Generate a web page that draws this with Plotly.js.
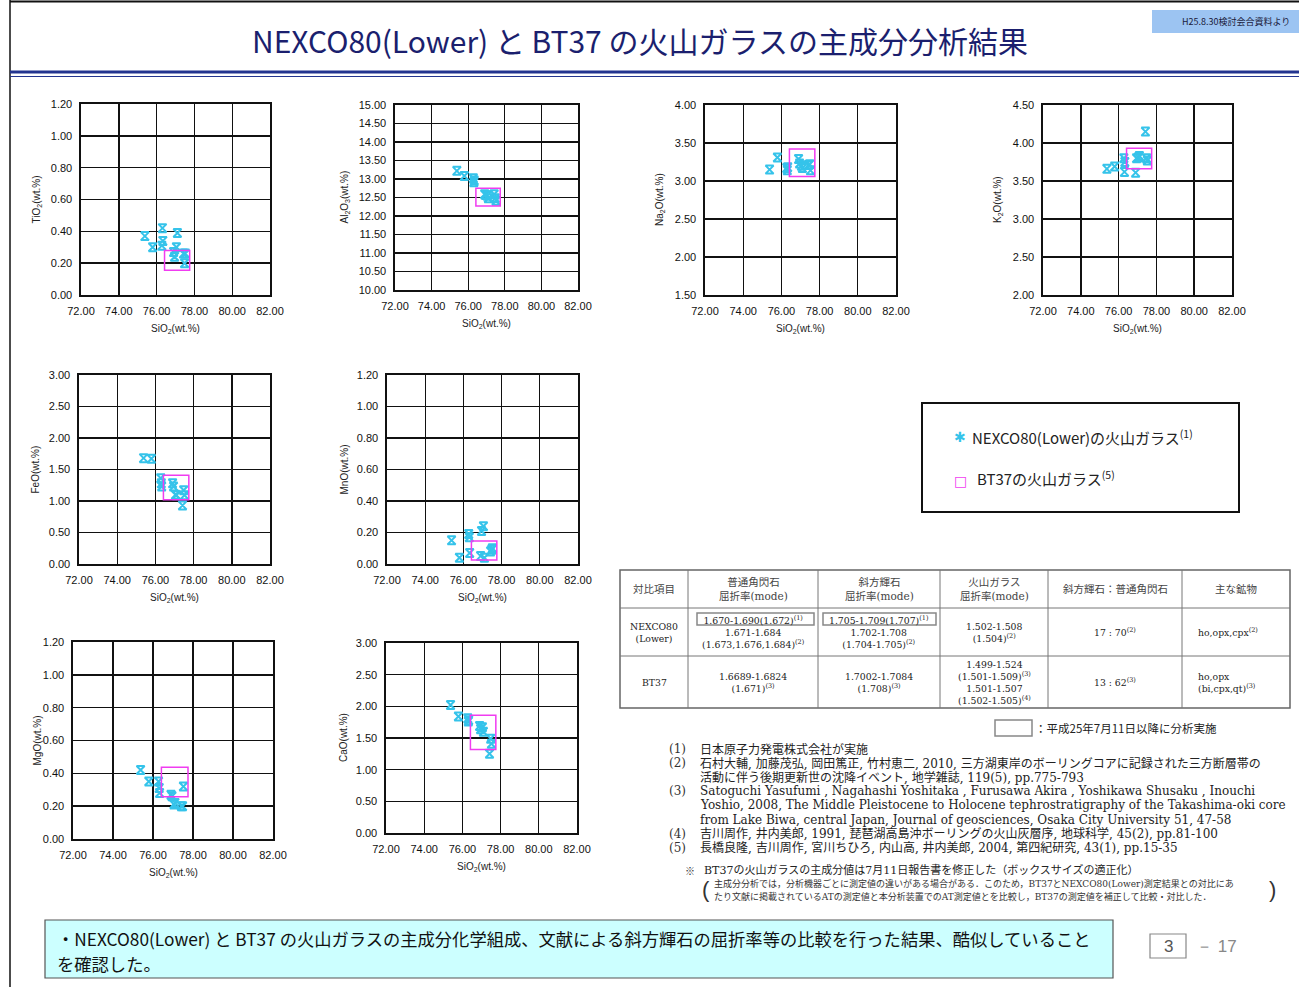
<!DOCTYPE html>
<html><head><meta charset="utf-8">
<script src="https://cdn.plot.ly/plotly-3.0.1.min.js"></script>
<style>html,body{margin:0;padding:0;background:#fff;}#chart{width:1299px;height:987px;}</style>
</head><body><div id="chart"></div>
<script>
const W = 1299, H = 987;

// ---------- data: NEXCO80(Lower) volcanic glass (wt.%) ----------
const sio2 = [75.38, 75.79, 76.28, 76.31, 76.33, 76.90, 76.95, 77.05, 77.10, 77.42, 77.48, 77.52];
const tio2 = [0.37, 0.30, 0.31, 0.42, 0.34, 0.27, 0.24, 0.30, 0.39, 0.26, 0.20, 0.26];
const al2o3 = [13.22, 13.08, 13.02, 12.91, 12.96, 12.59, 12.57, 12.55, 12.48, 12.59, 12.48, 12.41];
const na2o = [3.15, 3.31, 3.17, 3.14, 3.18, 3.29, 3.23, 3.20, 3.17, 3.21, 3.22, 3.14];
const k2o = [3.66, 3.69, 3.80, 3.62, 3.75, 3.61, 3.80, 3.81, 3.83, 4.15, 3.80, 3.77];
const feo = [1.68, 1.67, 1.36, 1.28, 1.23, 1.28, 1.23, 1.10, 1.09, 0.93, 1.17, 1.09];
const mno = [0.15, 0.04, 0.19, 0.17, 0.07, 0.05, 0.21, 0.24, 0.04, 0.08, 0.09, 0.10];
const mgo = [0.42, 0.35, 0.35, 0.31, 0.28, 0.27, 0.26, 0.21, 0.22, 0.20, 0.20, 0.32];
const cao = [2.02, 1.84, 1.81, 1.76, 1.78, 1.69, 1.64, 1.67, 1.60, 1.25, 1.49, 1.41];

// ---------- data: BT37 volcanic glass ranges (box) ----------
const bt37SiO2 = [76.42, 77.75];
const bt37TiO2 = [0.155, 0.28];
const bt37Al2O3 = [12.27, 12.75];
const bt37Na2O = [3.06, 3.42];
const bt37K2O = [3.66, 3.93];
const bt37FeO = [1.02, 1.41];
const bt37MnO = [0.025, 0.146];
const bt37MgO = [0.258, 0.437];
const bt37CaO = [1.32, 1.86];

// ---------- axis labels / ranges ----------
const xTitle = 'SiO<sub>2</sub>(wt.%)';
const xRange = [72, 82];
const xTickStep = 2;

// ---------- table text ----------
const tableHeader = ['対比項目', '普通角閃石<br>屈折率(mode)', '斜方輝石<br>屈折率(mode)', '火山ガラス<br>屈折率(mode)', '斜方輝石：普通角閃石', '主な鉱物'];
const tableRowNexco = ['NEXCO80<br>(Lower)',
  '1.670-1.690(1.672)<sup>(1)</sup><br>1.671-1.684<br>(1.673,1.676,1.684)<sup>(2)</sup>',
  '1.705-1.709(1.707)<sup>(1)</sup><br>1.702-1.708<br>(1.704-1.705)<sup>(2)</sup>',
  '1.502-1.508<br>(1.504)<sup>(2)</sup>',
  '17 : 70<sup>(2)</sup>',
  'ho,opx,cpx<sup>(2)</sup>'];
const tableRowBt37 = ['BT37',
  '1.6689-1.6824<br>(1.671)<sup>(3)</sup>',
  '1.7002-1.7084<br>(1.708)<sup>(3)</sup>',
  '1.499-1.524<br>(1.501-1.509)<sup>(3)</sup><br>1.501-1.507<br>(1.502-1.505)<sup>(4)</sup>',
  '13 : 62<sup>(3)</sup>',
  'ho,opx<br>(bi,cpx,qt)<sup>(3)</sup>'];

const refNums = ['(1)', '(2)', '', '(3)', '', '', '(4)', '(5)'];
const refLines = [
  '日本原子力発電株式会社が実施',
  '石村大輔, 加藤茂弘, 岡田篤正, 竹村恵二, 2010, 三方湖東岸のボーリングコアに記録された三方断層帯の',
  '活動に伴う後期更新世の沈降イベント, 地学雑誌, 119(5), pp.775-793',
  'Satoguchi Yasufumi , Nagahashi Yoshitaka , Furusawa Akira , Yoshikawa Shusaku , Inouchi',
  'Yoshio, 2008, The Middle Pleistocene to Holocene tephrostratigraphy of the Takashima-oki core',
  'from Lake Biwa, central Japan, Journal of geosciences, Osaka City University 51, 47-58',
  '吉川周作, 井内美郎, 1991, 琵琶湖高島沖ボーリングの火山灰層序, 地球科学, 45(2), pp.81-100',
  '長橋良隆, 吉川周作, 宮川ちひろ, 内山高, 井内美郎, 2004, 第四紀研究, 43(1), pp.15-35'
];

// ---------- layout helpers ----------
const px = x => x / W;
const py = y => 1 - y / H;
const JP = "'Noto Sans CJK JP', 'Liberation Sans', sans-serif";
const SERIF = "'DejaVu Serif', 'Noto Sans CJK JP', serif";
const SANS = "'Liberation Sans', Arial, sans-serif";

const panels = [
  {y: tio2, box: bt37TiO2, title: 'TiO<sub>2</sub>(wt.%)', range: [0, 1.2], dtick: 0.2, pos: [81, 270, 104, 295], tx: 36},
  {y: al2o3, box: bt37Al2O3, title: 'Al<sub>2</sub>O<sub>3</sub>(wt.%)', range: [10, 15], dtick: 0.5, pos: [395, 578, 105, 290], tx: 344},
  {y: na2o, box: bt37Na2O, title: 'Na<sub>2</sub>O(wt.%)', range: [1.5, 4], dtick: 0.5, pos: [705, 896, 105, 295], tx: 660},
  {y: k2o, box: bt37K2O, title: 'K<sub>2</sub>O(wt.%)', range: [2, 4.5], dtick: 0.5, pos: [1043, 1232, 105, 295], tx: 998},
  {y: feo, box: bt37FeO, title: 'FeO(wt.%)', range: [0, 3], dtick: 0.5, pos: [79, 270, 375, 564], tx: 35},
  {y: mno, box: bt37MnO, title: 'MnO(wt.%)', range: [0, 1.2], dtick: 0.2, pos: [387, 578, 375, 564], tx: 344},
  {y: mgo, box: bt37MgO, title: 'MgO(wt.%)', range: [0, 1.2], dtick: 0.2, pos: [73, 273, 642, 839], tx: 37},
  {y: cao, box: bt37CaO, title: 'CaO(wt.%)', range: [0, 3], dtick: 0.5, pos: [386, 577, 643, 833], tx: 343}
];

const data = [];
const shapes = [];
const annotations = [];
const layout = {
  width: W, height: H, margin: {l: 0, r: 0, t: 0, b: 0},
  paper_bgcolor: '#fff', plot_bgcolor: '#fff', showlegend: false,
  font: {family: SANS, color: '#222'}
};

const glassColor = '#35c3ea';
const boxColor = '#f03cf0';

panels.forEach((p, i) => {
  const sx = i ? String(i + 1) : '';
  const [l, r, t, b] = p.pos;
  data.push({
    type: 'scatter', mode: 'markers', x: sio2, y: p.y,
    xaxis: 'x' + sx, yaxis: 'y' + sx,
    marker: {symbol: 'hourglass-open', size: 8, color: glassColor, line: {color: glassColor, width: 2}},
    hoverinfo: 'x+y'
  });
  const axCommon = {
    showgrid: true, gridcolor: '#111', gridwidth: 1.4,
    showline: true, linecolor: '#111', linewidth: 1.6, mirror: true,
    zeroline: false, ticks: 'outside', ticklen: 5, tickcolor: 'rgba(0,0,0,0)',
    tickformat: '.2f', tickfont: {family: SANS, size: 11, color: '#111'},
    fixedrange: true
  };
  layout['xaxis' + sx] = Object.assign({}, axCommon, {
    domain: [px(l), px(r)], range: xRange, dtick: xTickStep, tick0: 72,
    anchor: 'y' + sx
  });
  layout['yaxis' + sx] = Object.assign({}, axCommon, {
    domain: [py(b), py(t)], range: p.range, dtick: p.dtick, tick0: p.range[0],
    anchor: 'x' + sx
  });
  shapes.push({
    type: 'rect', xref: 'x' + sx, yref: 'y' + sx,
    x0: bt37SiO2[0], x1: bt37SiO2[1], y0: p.box[0], y1: p.box[1],
    line: {color: boxColor, width: 1.5}, fillcolor: 'rgba(0,0,0,0)', layer: 'above'
  });
  annotations.push({
    xref: 'paper', yref: 'paper', x: px((l + r) / 2), y: py(b + 34),
    text: xTitle, showarrow: false, xanchor: 'center', yanchor: 'middle',
    font: {family: SANS, size: 10, color: '#222'}
  });
  annotations.push({
    xref: 'paper', yref: 'paper', x: px(p.tx), y: py((t + b) / 2),
    text: p.title, showarrow: false, textangle: -90, xanchor: 'center', yanchor: 'middle',
    font: {family: SANS, size: 10, color: '#222'}
  });
});

function pline(x0, y0, x1, y1, color, width) {
  shapes.push({type: 'line', xref: 'paper', yref: 'paper', x0: px(x0), y0: py(y0), x1: px(x1), y1: py(y1), line: {color, width}});
}
function prect(x0, y0, x1, y1, color, width, fill) {
  shapes.push({type: 'rect', xref: 'paper', yref: 'paper', x0: px(x0), y0: py(y0), x1: px(x1), y1: py(y1),
    line: {color, width}, fillcolor: fill || 'rgba(0,0,0,0)'});
}
function ptext(text, x, y, size, opts) {
  annotations.push(Object.assign({
    xref: 'paper', yref: 'paper', x: px(x), y: py(y), text, showarrow: false,
    xanchor: 'left', yanchor: 'middle', font: {family: JP, size, color: '#222'}
  }, opts || {}));
}

// frame & title
pline(10, 0, 10, 987, '#111', 1.5);
pline(10, 1.5, 1299, 1.5, '#111', 2);
prect(1152, 10, 1300, 33, '#9cc4f2', 0, '#9cc4f2');
ptext('H25.8.30検討会合資料より', 1236, 22, 9, {xanchor: 'center', font: {family: JP, size: 9, color: '#1a1a3a'}});
ptext('NEXCO80(Lower) と BT37 の火山ガラスの主成分分析結果', 640, 40, 30,
  {xanchor: 'center', font: {family: JP, size: 30, color: '#1b1f6e'}});
pline(10, 72, 1299, 72, '#22348f', 3);
pline(10, 76.5, 1299, 76.5, '#22348f', 1.2);

// legend box
prect(922, 403, 1239, 512, '#111', 2, '#fff');
ptext('✱', 960, 437, 14, {xanchor: 'center', font: {family: "'DejaVu Sans', sans-serif", size: 14, color: glassColor}});
ptext('NEXCO80(Lower)の火山ガラス<sup>(1)</sup>', 970, 437, 15);
ptext('□', 960, 481, 14, {xanchor: 'center', font: {family: "'DejaVu Sans', sans-serif", size: 14, color: boxColor}});
ptext('BT37の火山ガラス<sup>(5)</sup>', 975, 478, 15);

// table
const colEdges = [620, 688, 818, 940, 1048, 1182, 1290];
const rowEdges = [570, 608, 656, 708];
prect(colEdges[0], rowEdges[0], colEdges[6], rowEdges[3], '#666', 1.5);
colEdges.slice(1, -1).forEach(x => pline(x, rowEdges[0], x, rowEdges[3], '#777', 1));
rowEdges.slice(1, -1).forEach(y => pline(colEdges[0], y, colEdges[6], y, '#777', 1));
[tableHeader, tableRowNexco, tableRowBt37].forEach((row, ri) => {
  const cy = (rowEdges[ri] + rowEdges[ri + 1]) / 2;
  row.forEach((txt, ci) => {
    const last = ci === row.length - 1 && ri > 0;
    const cx = last ? colEdges[ci] + 14 : (colEdges[ci] + colEdges[ci + 1]) / 2;
    const fs = ri === 0 ? 10.5 : 9.3;
    ptext(txt, cx, cy, fs, {xanchor: last ? 'left' : 'center', align: last ? 'left' : 'center',
      font: {family: SERIF, size: fs, color: ri === 0 ? '#444' : '#222'}});
  });
});
prect(697, 613, 814, 625, '#888', 1.5);
prect(823, 613, 936, 625, '#888', 1.5);
prect(995, 720, 1032, 736, '#888', 1.5);
ptext('：平成25年7月11日以降に分析実施', 1033, 728, 11.5, {font: {family: JP, size: 11.5, color: '#222'}});

// references
refLines.forEach((line, i) => {
  const y = 749 + i * 14.1;
  if (refNums[i]) ptext(refNums[i], 667, y, 12, {font: {family: SERIF, size: 12, color: '#333'}});
  ptext(line, 698, y, 12, {font: {family: SERIF, size: 12, color: '#222'}});
});

// notes
ptext('※', 683, 870, 10, {font: {family: JP, size: 10, color: '#333'}});
ptext('BT37の火山ガラスの主成分値は7月11日報告書を修正した（ボックスサイズの適正化）', 702, 870, 11,
  {font: {family: SERIF, size: 11, color: '#222'}});
ptext('(', 700, 889, 22, {font: {family: SANS, size: 22, color: '#333'}});
ptext(')', 1267, 889, 22, {font: {family: SANS, size: 22, color: '#333'}});
ptext('主成分分析では，分析機器ごとに測定値の違いがある場合がある．このため，BT37とNEXCO80(Lower)測定結果との対比にあ', 712, 883, 9,
  {font: {family: SERIF, size: 9, color: '#333'}});
ptext('たり文献に掲載されているATの測定値と本分析装置でのAT測定値とを比較し，BT37の測定値を補正して比較・対比した．', 712, 896, 9,
  {font: {family: SERIF, size: 9, color: '#333'}});

// summary box
prect(45, 920, 1113, 978, '#555', 1.2, '#ccffff');
ptext('・NEXCO80(Lower) と BT37 の火山ガラスの主成分化学組成、文献による斜方輝石の屈折率等の比較を行った結果、酷似していること',
  55, 938.5, 17.3, {font: {family: JP, size: 17.3, color: '#111'}});
ptext('を確認した。', 55, 963.5, 17.3, {font: {family: JP, size: 17.3, color: '#111'}});

// page number
prect(1150, 934, 1186, 958, '#888', 1.2);
ptext('3', 1168, 946, 17, {xanchor: 'center', font: {family: SANS, size: 17, color: '#555'}});
ptext('－ 17', 1194, 946, 17, {font: {family: SANS, size: 17, color: '#888'}});

layout.shapes = shapes;
layout.annotations = annotations;
Plotly.newPlot('chart', data, layout, {displayModeBar: false, staticPlot: true});
</script>
</body></html>
